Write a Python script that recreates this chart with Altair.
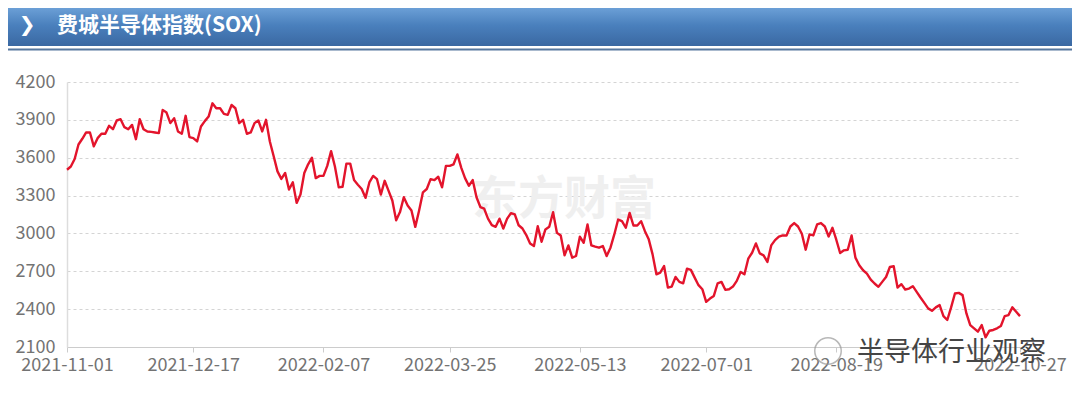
import altair as alt
import pandas as pd

# ---- data ----
values = [
    3505, 3530, 3590, 3705, 3750, 3800, 3800, 3690, 3755, 3790,
    3790, 3853, 3826, 3895, 3905, 3842, 3826, 3860, 3747, 3905,
    3826, 3808, 3805, 3800, 3795, 3979, 3958, 3874, 3913, 3808,
    3790, 3932, 3763, 3755, 3729, 3847, 3890, 3926, 4031, 3992,
    3992, 3947, 3940, 4018, 3992, 3874, 3900, 3790, 3800, 3874,
    3895, 3808, 3900, 3729, 3611, 3492, 3432, 3479, 3348, 3405,
    3242, 3308,
    3479, 3548, 3600, 3438, 3456, 3456, 3535, 3652, 3530, 3365,
    3370, 3553, 3553, 3423, 3386, 3352, 3282, 3404, 3456, 3430,
    3308, 3417, 3339, 3261, 3104, 3169, 3287, 3222, 3182, 3052,
    3182, 3326, 3352, 3430, 3423, 3449, 3365, 3535, 3535, 3548,
    3626, 3522, 3438, 3378, 3423, 3287, 3209, 3196, 3117, 3065,
    3052, 3117, 3039, 3117, 3161, 3151, 3065, 3039, 2987, 2921,
    2900, 3057, 2934,
    3032, 3053, 3168, 3005, 2984, 2826, 2905, 2808, 2821, 2974,
    2926, 3071, 2905, 2895, 2887, 2900, 2821, 2887, 2992, 3110,
    3097, 3045, 3163, 3063, 3063, 3097, 3018, 2953, 2834, 2676,
    2690, 2742, 2571, 2579, 2655, 2616, 2605, 2721, 2711, 2650,
    2590, 2558, 2458, 2484, 2505, 2605, 2616, 2553, 2558, 2579,
    2624, 2695, 2676, 2800, 2847, 2921, 2842, 2826, 2774, 2905,
    2947, 2974,
    2984, 2984, 3055, 3082, 3055, 2997, 2871, 2992, 2984, 3071,
    3082, 3055, 2976, 3045, 2950, 2845, 2866, 2871, 2984, 2808,
    2748, 2708, 2682, 2634, 2603, 2577, 2616, 2655, 2734, 2740,
    2571, 2598, 2556, 2563, 2582, 2537, 2492, 2450, 2406, 2387,
    2414, 2432, 2345, 2314, 2414, 2524, 2529, 2511, 2366, 2274,
    2248, 2222, 2274, 2177, 2229, 2235, 2248, 2266, 2345, 2353,
    2414, 2379, 2345,
]
holidays = ["2021-11-25", "2021-12-24", "2022-01-17", "2022-02-21", "2022-04-15",
            "2022-05-30", "2022-06-20", "2022-07-04", "2022-09-05"]
tick_dates = ["2021-11-01", "2021-12-17", "2022-02-07", "2022-03-25",
              "2022-05-13", "2022-07-01", "2022-08-19", "2022-10-27"]
y_ticks = [2100, 2400, 2700, 3000, 3300, 3600, 3900, 4200]
title_text = "费城半导体指数(SOX)"
chevron_text = "❯"
watermark_text = "东方财富"
wechat_text = "半导体行业观察"

days = [d.strftime("%Y-%m-%d") for d in pd.bdate_range("2021-11-01", "2022-10-27")]
days = [d for d in days if d not in holidays]
n = min(len(days), len(values))
df = pd.DataFrame({"date": days[:n], "value": values[:n]})

W, H = 953, 265
PL, PT, PR, PB = 59, 74, 52, 42
FONT = "Noto Sans CJK SC"
one = pd.DataFrame({"k": [0]})

line = alt.Chart(df).mark_line(color="#e3142c", strokeWidth=2.4, strokeJoin="round").encode(
    x=alt.X("date:O", sort=None,
            scale=alt.Scale(type="point", padding=0),
            axis=alt.Axis(values=tick_dates, title=None, labelAngle=0, labelOverlap=False,
                          domainColor="#cccccc", tickColor="#cccccc", tickSize=5,
                          labelFont=FONT, labelFontSize=18, labelColor="#737373",
                          labelPadding=4, grid=False)),
    y=alt.Y("value:Q",
            scale=alt.Scale(domain=[2100, 4200], nice=False, zero=False),
            axis=alt.Axis(values=y_ticks, title=None, ticks=False, format="d",
                          domainColor="#dddddd", domainWidth=1.5,
                          grid=True, gridColor="#d4d4d4", gridDash=[3, 3],
                          labelFont=FONT, labelFontSize=18, labelColor="#737373",
                          labelPadding=12)),
)

banner = alt.Chart(one).mark_rect(
    color=alt.Gradient(gradient="linear", x1=0, x2=0, y1=0, y2=1,
                       stops=[alt.GradientStop(color="#6b9fd6", offset=0),
                              alt.GradientStop(color="#4a80bd", offset=0.45),
                              alt.GradientStop(color="#3a68a2", offset=1)])
).encode(x=alt.value(-PL), x2=alt.value(W + PR), y=alt.value(-PT), y2=alt.value(-PT + 38))

sep = alt.Chart(one).mark_rule(color="#56779e", strokeWidth=2).encode(
    x=alt.value(-PL), x2=alt.value(W + PR), y=alt.value(-32.5))

chevron = alt.Chart(pd.DataFrame({"t": [chevron_text]})).mark_text(
    font="DejaVu Sans", fontSize=20, fontWeight="bold", color="white",
    align="center", baseline="middle").encode(
    text="t:N", x=alt.value(-40), y=alt.value(-57))

title = alt.Chart(pd.DataFrame({"t": [title_text]})).mark_text(
    font=FONT, fontSize=21, fontWeight="bold", color="white",
    align="left", baseline="middle").encode(
    text="t:N", x=alt.value(-10), y=alt.value(-56))

watermark = alt.Chart(pd.DataFrame({"t": [watermark_text]})).mark_text(
    font=FONT, fontSize=46, fontWeight="bold", color="#efefef",
    align="left", baseline="middle").encode(
    text="t:N", x=alt.value(405), y=alt.value(118))

wechat_icon = alt.Chart(one).mark_point(
    shape="circle", size=700, filled=False, color="#9a9a9a", strokeWidth=1.5).encode(
    x=alt.value(761), y=alt.value(269))

wechat = alt.Chart(pd.DataFrame({"t": [wechat_text]})).mark_text(
    font=FONT, fontSize=27, color="#454545",
    align="left", baseline="middle").encode(
    text="t:N", x=alt.value(790), y=alt.value(271))

chart = alt.layer(banner, sep, chevron, title, watermark, line, wechat_icon, wechat).properties(
    width=W, height=H,
    autosize=alt.AutoSizeParams(type="none"),
    padding={"left": PL, "top": PT, "right": PR, "bottom": PB},
    background="white",
).configure_view(stroke=None)

chart.save("out.html", embed_options={"renderer": "svg", "actions": False})
